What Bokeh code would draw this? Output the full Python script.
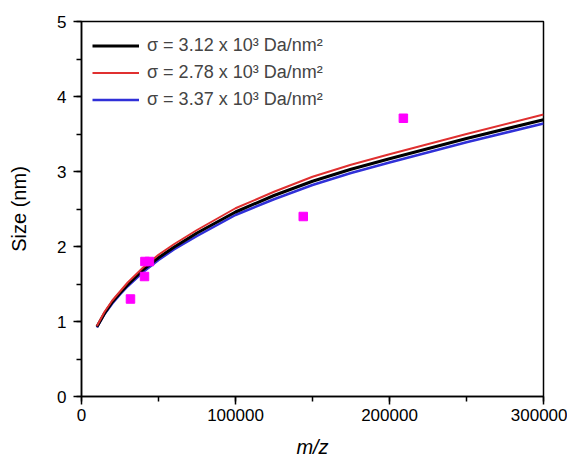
from bokeh.plotting import figure
from bokeh.models import Range1d, SingleIntervalTicker, Legend, LegendItem, NumeralTickFormatter
from bokeh.embed import file_html
from bokeh.resources import INLINE

# Fitted curves (m/z, size in nm)
curve_mz = [10000, 15000, 20000, 25000, 30000, 40000, 50000, 60000, 75000,
            100000, 125000, 150000, 175000, 200000, 250000, 300000]
size_312 = [0.93, 1.11, 1.26, 1.38, 1.49, 1.69, 1.85, 1.99, 2.18,
            2.46, 2.68, 2.87, 3.03, 3.17, 3.44, 3.69]
size_278 = [0.94, 1.13, 1.28, 1.40, 1.52, 1.72, 1.89, 2.03, 2.22,
            2.51, 2.73, 2.93, 3.09, 3.23, 3.50, 3.76]
size_337 = [0.92, 1.10, 1.24, 1.36, 1.47, 1.66, 1.82, 1.96, 2.14,
            2.42, 2.63, 2.82, 2.98, 3.12, 3.39, 3.64]

# Measured points
meas_mz = [31800, 40900, 41200, 44100, 144000, 209000]
meas_size = [1.30, 1.60, 1.80, 1.80, 2.40, 3.71]

labels = ["σ = 3.12 x 10³ Da/nm²", "σ = 2.78 x 10³ Da/nm²", "σ = 3.37 x 10³ Da/nm²"]

FONT = "Liberation Sans"

p = figure(width=567, height=460, output_backend="svg", toolbar_location=None,
           x_range=Range1d(0, 300000), y_range=Range1d(0, 5),
           min_border_left=81, min_border_top=21, min_border_right=24, min_border_bottom=63)

p.xgrid.visible = False
p.ygrid.visible = False
p.outline_line_color = "black"
p.outline_line_width = 1.5
p.outline_line_alpha = 1.0

r_blue = p.line(curve_mz, size_337, line_color="#3030d8", line_width=2.5)
r_black = p.line(curve_mz, size_312, line_color="black", line_width=3)
r_red = p.line(curve_mz, size_278, line_color="#e03030", line_width=2)

p.scatter(meas_mz, meas_size, marker="square", size=8.5, fill_color="#ff00ff", line_color="#ff00ff")

legend = Legend(items=[LegendItem(label=labels[0], renderers=[r_black]),
                       LegendItem(label=labels[1], renderers=[r_red]),
                       LegendItem(label=labels[2], renderers=[r_blue])],
                location="top_left", border_line_alpha=0, background_fill_alpha=0,
                glyph_width=47, glyph_height=27, label_height=27, spacing=0,
                padding=11, margin=0, label_standoff=8,
                label_text_font=FONT, label_text_font_size="18px")
p.add_layout(legend)

p.xaxis.ticker = SingleIntervalTicker(interval=100000, num_minor_ticks=2)
p.yaxis.ticker = SingleIntervalTicker(interval=1, num_minor_ticks=2)
p.xaxis.formatter = NumeralTickFormatter(format="0")

for ax in (p.xaxis, p.yaxis):
    ax.axis_line_width = 1.5
    ax.axis_line_color = "black"
    ax.major_tick_line_width = 1.5
    ax.minor_tick_line_width = 1.5
    ax.major_tick_line_color = "black"
    ax.minor_tick_line_color = "black"
    ax.major_tick_out = 8
    ax.major_tick_in = 0
    ax.minor_tick_out = 5
    ax.minor_tick_in = 0
    ax.major_label_text_font = FONT
    ax.major_label_text_font_size = "17px"
    ax.major_label_text_color = "black"
    ax.axis_label_text_font = FONT
    ax.axis_label_text_font_size = "20px"
    ax.axis_label_text_color = "black"

p.xaxis.major_label_standoff = 4
p.yaxis.major_label_standoff = 7
p.xaxis.axis_label = "m/z"
p.xaxis.axis_label_text_font_style = "italic"
p.yaxis.axis_label = "Size (nm)"
p.yaxis.axis_label_text_font_style = "normal"
p.xaxis.axis_label_standoff = 12
p.yaxis.axis_label_standoff = 24

open("out.html", "w").write(file_html(p, INLINE))
